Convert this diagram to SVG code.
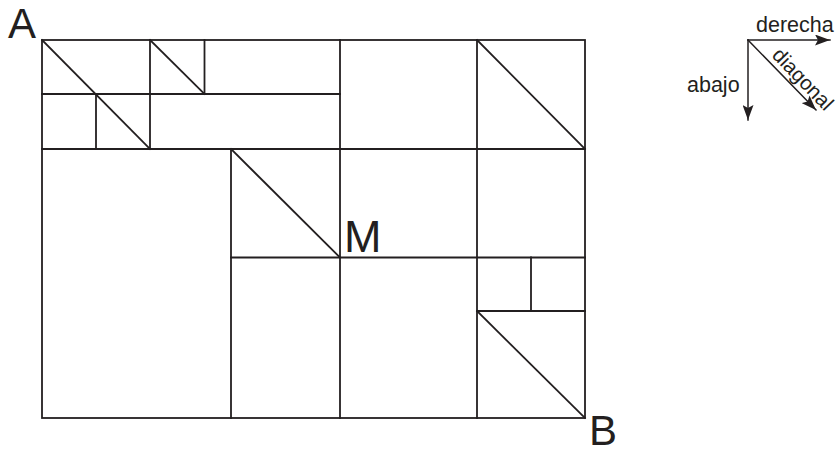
<svg xmlns="http://www.w3.org/2000/svg" width="839" height="452" viewBox="0 0 839 452">
<style>
.ln{stroke:#231f20;stroke-width:1.8;fill:none;stroke-linecap:square}
.big{font-family:"Liberation Sans",Arial,sans-serif;font-size:42px;fill:#231f20}
.sm{font-family:"Liberation Sans",Arial,sans-serif;font-size:21.5px;fill:#231f20}
</style>
<defs>
<marker id="ah" viewBox="0 0 15 11" refX="15" refY="5.5" markerWidth="15" markerHeight="11" markerUnits="userSpaceOnUse" orient="auto">
<path d="M0,0 L15,5.5 L0,11 L3,5.5 Z" fill="#231f20"/>
</marker>
</defs>
<rect width="839" height="452" fill="#fff"/>
<g id="grid" class="ln">
<rect x="42" y="40" width="543" height="378"/>
<line x1="42" y1="94" x2="340" y2="94"/>
<line x1="42" y1="149" x2="585" y2="149"/>
<line x1="231" y1="257.5" x2="585" y2="257.5"/>
<line x1="477" y1="311" x2="585" y2="311"/>
<line x1="96" y1="94" x2="96" y2="149"/>
<line x1="150" y1="40" x2="150" y2="149"/>
<line x1="204.5" y1="40" x2="204.5" y2="94"/>
<line x1="340" y1="40" x2="340" y2="418"/>
<line x1="477" y1="40" x2="477" y2="418"/>
<line x1="231" y1="149" x2="231" y2="418"/>
<line x1="531" y1="257.5" x2="531" y2="311"/>
<line x1="42" y1="40" x2="150" y2="149"/>
<line x1="150" y1="40" x2="204.5" y2="94"/>
<line x1="477" y1="40" x2="585" y2="149"/>
<line x1="231" y1="149" x2="340" y2="257.5"/>
<line x1="477" y1="311" x2="585" y2="418"/>
</g>
<g id="labels">
<text class="big" x="8" y="38">A</text>
<text class="big" x="344" y="252" style="font-size:45px">M</text>
<text class="big" x="589" y="445">B</text>
</g>
<g id="legend">
<g class="ln" style="stroke-width:1.5">
<line x1="748" y1="40" x2="830" y2="40" marker-end="url(#ah)"/>
<line x1="748" y1="40" x2="748" y2="120" marker-end="url(#ah)"/>
<line x1="748" y1="40" x2="816" y2="110" marker-end="url(#ah)"/>
</g>
<text class="sm" x="756" y="32">derecha</text>
<text class="sm" x="687" y="92">abajo</text>
<text class="sm" style="font-size:20.5px" transform="translate(771,56) rotate(46)">diagonal</text>
</g>
</svg>
